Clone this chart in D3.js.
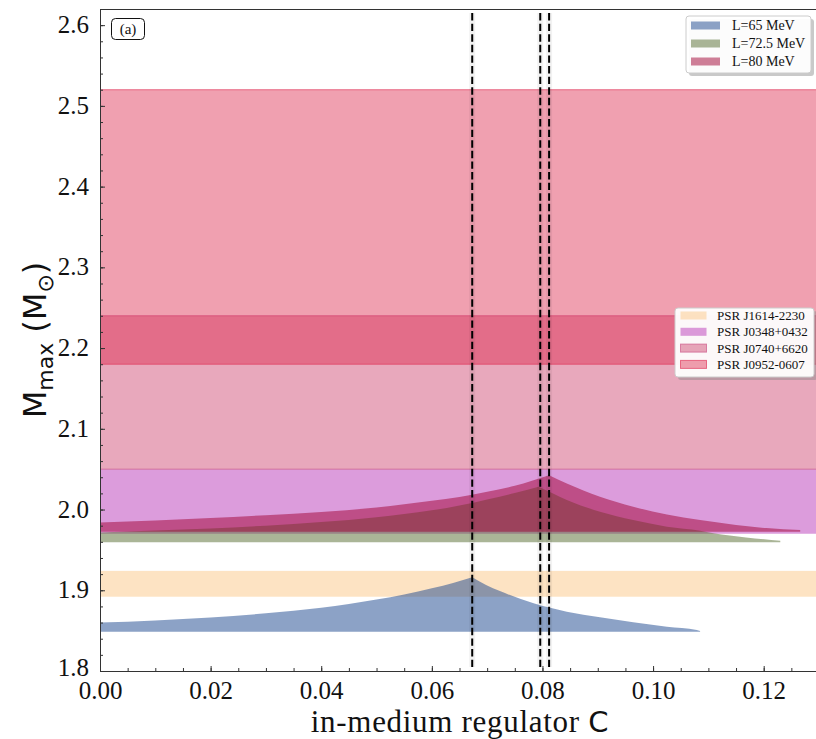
<!DOCTYPE html>
<head>
    <title>Mmax vs C</title>
    <script src="https://cdnjs.cloudflare.com/ajax/libs/d3/7.8.5/d3.min.js"></script>
    <style>
        body { margin: 0; background: #fff; }
        svg { display: block; }
    </style>
</head>
<body>
    <div id="chart"></div>
    <script type="text/javascript">
        // tick labels
        const cTicks = [0, 0.02, 0.04, 0.06, 0.08, 0.10, 0.12];
        const mTicks = [1.8, 1.9, 2.0, 2.1, 2.2, 2.3, 2.4, 2.5, 2.6];

        // M_max(C) curves
        const seriesNames = ["L=65 MeV", "L=72.5 MeV", "L=80 MeV"];
        const l65C = [0, 0.01, 0.02, 0.03, 0.04, 0.045, 0.05, 0.055, 0.06, 0.064, 0.0673, 0.0698, 0.0723, 0.0784, 0.0844, 0.0904, 0.0964, 0.1025, 0.1079, 0.1085];
        const l65M = [1.860, 1.8626, 1.8663, 1.8714, 1.8785, 1.8831, 1.8885, 1.8948, 1.9024, 1.9094, 1.916, 1.9065, 1.899, 1.8838, 1.8735, 1.8665, 1.8603, 1.8549, 1.8508, 1.8495];
        const l65Base = 1.8487;
        const l725C = [0, 0.01, 0.02, 0.03, 0.04, 0.05, 0.055, 0.06, 0.065, 0.07, 0.075, 0.0793, 0.082, 0.0844, 0.0904, 0.0964, 0.1025, 0.1085, 0.1109, 0.1168, 0.123];
        const l725M = [1.9715, 1.974, 1.9765, 1.980, 1.9845, 1.9905, 1.9945, 1.999, 2.005, 2.0125, 2.0205, 2.0283, 2.0195, 2.0118, 1.9973, 1.987, 1.9787, 1.9737, 1.9705, 1.9655, 1.9612];
        const l725Base = 1.9595;
        const l80C = [0, 0.01, 0.02, 0.03, 0.04, 0.05, 0.06, 0.065, 0.07, 0.075, 0.0812, 0.0844, 0.0904, 0.0964, 0.1025, 0.1085, 0.115, 0.1205, 0.1266];
        const l80M = [1.984, 1.9865, 1.9895, 1.993, 1.997, 2.0025, 2.011, 2.0155, 2.022, 2.0295, 2.0425, 2.0324, 2.0159, 2.0035, 1.994, 1.987, 1.981, 1.977, 1.9746];
        const l80Base = 1.9725;

        // pulsar mass bands
        const psrNames = ["PSR J1614-2230", "PSR J0348+0432", "PSR J0740+6620", "PSR J0952-0607"];
        const psrLow = [1.892, 1.97, 2.05, 2.18];
        const psrHigh = [1.924, 2.05, 2.24, 2.52];

        // dashed lines at the peaks
        const peakLines = [0.0673, 0.0796, 0.0812];

        const width = 816;
        const height = 739;
        const serif = "'Liberation Serif', 'Times New Roman', serif";
        const sans = "'DejaVu Sans', sans-serif";

        const seriesColors = ["rgb(25,69,141)", "#556B2F", "rgb(160,0,50)"];
        const psrColors = ["rgb(251,199,135)", "rgb(185,57,185)", "rgb(197,37,87)", "rgb(219,29,67)"];
        const psrAlpha = [0.5, 0.5, 0.4, 0.42];
        const psrEdge = [null, null, "rgb(205,90,140)", "rgb(225,60,95)"];

        const svg = d3.select("#chart")
            .append("svg")
            .attr("width", width)
            .attr("height", height);

        const xScale = d3.scaleLinear().domain([0, 0.13]).range([100, 819]);
        const yScale = d3.scaleLinear().domain([1.8, 2.62]).range([671, 9]);

        svg.append("clipPath").attr("id", "plot-clip")
            .append("rect")
            .attr("x", 100).attr("y", 9)
            .attr("width", 719).attr("height", 662);

        const plot = svg.append("g").attr("clip-path", "url(#plot-clip)");

        // bands
        psrNames.forEach(function(name, i) {
            plot.append("rect")
                .attr("x", xScale(0))
                .attr("width", xScale(0.13) - xScale(0))
                .attr("y", yScale(psrHigh[i]))
                .attr("height", yScale(psrLow[i]) - yScale(psrHigh[i]))
                .attr("fill", psrColors[i])
                .attr("fill-opacity", psrAlpha[i])
                .attr("stroke", psrEdge[i] ? psrEdge[i] : "none")
                .attr("stroke-opacity", 0.7)
                .attr("stroke-width", 1);
        });

        // areas with a sharp peak
        const line = d3.line().curve(d3.curveMonotoneX);
        function cuspArea(cs, ms, base) {
            const pts = cs.map((c, i) => [xScale(c), yScale(ms[i])]);
            const k = d3.maxIndex(ms);
            const left = line(pts.slice(0, k + 1));
            const right = line(pts.slice(k)).replace(/^M/, "L");
            return left + right
                + "L" + xScale(cs[cs.length - 1]) + "," + yScale(base)
                + "L" + xScale(cs[0]) + "," + yScale(base) + "Z";
        }

        const curves = [
            [l65C, l65M, l65Base],
            [l725C, l725M, l725Base],
            [l80C, l80M, l80Base]
        ];
        curves.forEach(function(cv, i) {
            plot.append("path")
                .attr("d", cuspArea(cv[0], cv[1], cv[2]))
                .attr("fill", seriesColors[i])
                .attr("fill-opacity", 0.5);
        });

        // dashed vertical lines with a soft halo
        peakLines.forEach(function(c) {
            plot.append("line")
                .attr("x1", xScale(c)).attr("x2", xScale(c))
                .attr("y1", yScale(2.615)).attr("y2", yScale(1.805))
                .attr("stroke", "#000")
                .attr("stroke-opacity", 0.05)
                .attr("stroke-width", 6);
            plot.append("line")
                .attr("x1", xScale(c)).attr("x2", xScale(c))
                .attr("y1", yScale(2.615)).attr("y2", yScale(1.805))
                .attr("stroke", "#000")
                .attr("stroke-width", 2)
                .attr("stroke-dasharray", "7.4,3.2");
        });

        // axes
        const xMinor = d3.range(0, 0.1301, 0.005);
        const yMinor = d3.range(1.8, 2.621, 0.02);

        svg.append("g")
            .attr("transform", "translate(0,671)")
            .call(d3.axisBottom(xScale).tickValues(xMinor).tickSize(-3).tickFormat(""))
            .call(g => g.select(".domain").remove());
        svg.append("g")
            .attr("transform", "translate(100,0)")
            .call(d3.axisLeft(yScale).tickValues(yMinor).tickSize(-3).tickFormat(""))
            .call(g => g.select(".domain").remove());

        const xAxis = svg.append("g")
            .attr("transform", "translate(0,671)")
            .call(d3.axisBottom(xScale).tickValues(cTicks).tickSize(-5).tickSizeOuter(0)
                .tickPadding(10).tickFormat(d3.format(".2f")));
        const yAxis = svg.append("g")
            .attr("transform", "translate(100,0)")
            .call(d3.axisLeft(yScale).tickValues(mTicks).tickSize(-5).tickSizeOuter(0)
                .tickPadding(11).tickFormat(d3.format(".1f")));

        [xAxis, yAxis].forEach(function(ax) {
            ax.attr("font-family", null).attr("font-size", null);
            ax.selectAll("text")
                .style("font-family", serif)
                .style("font-size", "25px")
                .attr("fill", "#111");
            ax.selectAll(".domain").attr("stroke", "#333");
        });
        yAxis.selectAll("text").attr("dy", "0.3em");
        // lift the lowest label a little so it clears 0.00
        yAxis.selectAll("text").filter(d => d === mTicks[0]).attr("dy", "0.18em");
        svg.selectAll(".tick line").attr("stroke", "#333");

        // top spine
        svg.append("line")
            .attr("x1", 100).attr("x2", 819)
            .attr("y1", 9.5).attr("y2", 9.5)
            .attr("stroke", "#333");

        // axis titles
        const xTitle = svg.append("text")
            .attr("x", 460).attr("y", 732)
            .attr("text-anchor", "middle")
            .style("font-family", serif)
            .style("font-size", "31px")
            .style("letter-spacing", "0.7px")
            .attr("fill", "#111");
        xTitle.append("tspan").text("in-medium regulator ");
        xTitle.append("tspan").style("font-family", sans).style("font-size", "29px").text("C");

        const yTitle = svg.append("text")
            .attr("transform", "translate(46,340) rotate(-90)")
            .attr("text-anchor", "middle")
            .style("font-family", sans)
            .style("font-size", "32px")
            .attr("fill", "#111");
        yTitle.append("tspan").text("M");
        yTitle.append("tspan").style("font-size", "22px").attr("dy", 7).text("max");
        yTitle.append("tspan").attr("dy", -7).text(" (M");
        yTitle.append("tspan").style("font-size", "22px").attr("dy", 7).text("⊙");
        yTitle.append("tspan").attr("dy", -7).text(")");

        // panel tag
        svg.append("rect")
            .attr("x", 111.5).attr("y", 18.5)
            .attr("width", 33).attr("height", 21)
            .attr("rx", 4)
            .attr("fill", "#fff")
            .attr("stroke", "#111");
        svg.append("text")
            .attr("x", 128).attr("y", 34)
            .attr("text-anchor", "middle")
            .style("font-family", serif)
            .style("font-size", "15px")
            .attr("fill", "#111")
            .text("(a)");

        // legend boxes
        function legendBox(x, y, w, h) {
            svg.append("rect")
                .attr("x", x + 3).attr("y", y + 3)
                .attr("width", w).attr("height", h)
                .attr("rx", 3)
                .attr("fill", "#888").attr("fill-opacity", 0.45);
            svg.append("rect")
                .attr("x", x).attr("y", y)
                .attr("width", w).attr("height", h)
                .attr("rx", 3)
                .attr("fill", "#fff").attr("fill-opacity", 0.95)
                .attr("stroke", "#ccc");
        }

        legendBox(686, 16, 125, 57);
        seriesNames.forEach(function(name, i) {
            const ry = 25.5 + i * 18;
            svg.append("rect")
                .attr("x", 691).attr("y", ry - 4)
                .attr("width", 29).attr("height", 8)
                .attr("fill", seriesColors[i]).attr("fill-opacity", 0.5);
            svg.append("text")
                .attr("x", 732).attr("y", ry + 4.5)
                .style("font-family", serif).style("font-size", "14px")
                .attr("fill", "#111")
                .text(name);
        });

        legendBox(675, 308, 139, 69);
        psrNames.forEach(function(name, i) {
            const ry = 315.5 + i * 16.3;
            svg.append("rect")
                .attr("x", 680.5).attr("y", ry - 4)
                .attr("width", 26).attr("height", 8)
                .attr("fill", psrColors[i]).attr("fill-opacity", psrAlpha[i])
                .attr("stroke", psrEdge[i] ? psrEdge[i] : "none")
                .attr("stroke-opacity", 0.7);
            svg.append("text")
                .attr("x", 717).attr("y", ry + 4.5)
                .style("font-family", serif).style("font-size", "13px")
                .attr("fill", "#111")
                .text(name);
        });
    </script>
</body>
